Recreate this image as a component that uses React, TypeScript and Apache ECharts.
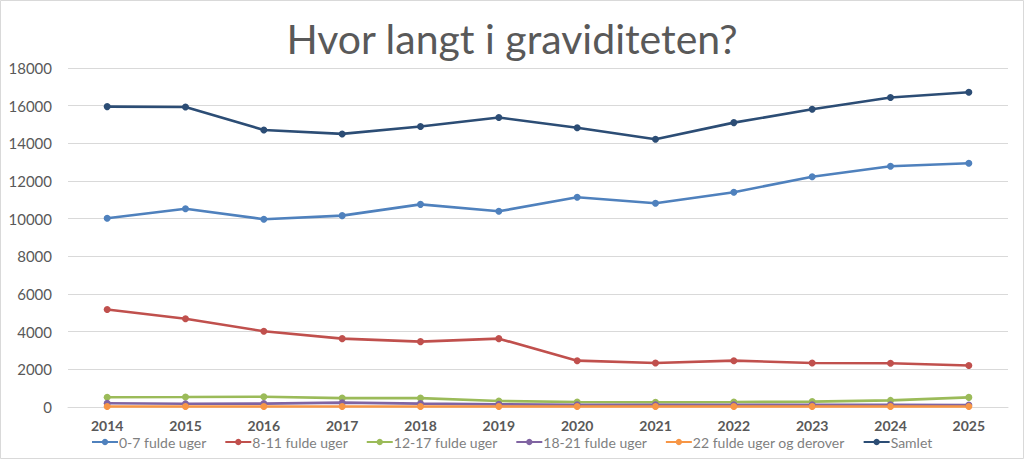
import React, { useEffect, useRef } from "react";
import * as echarts from "echarts";

const years = ["2014", "2015", "2016", "2017", "2018", "2019", "2020", "2021", "2022", "2023", "2024", "2025"];

const uger0to7 = [10020, 10530, 9970, 10160, 10760, 10390, 11135, 10820, 11400, 12230, 12780, 12940];
const uger8to11 = [5180, 4690, 4020, 3630, 3470, 3630, 2460, 2340, 2460, 2340, 2320, 2200];
const uger12to17 = [520, 530, 545, 470, 470, 320, 265, 250, 265, 285, 350, 510];
const uger18to21 = [200, 170, 180, 230, 180, 140, 120, 115, 120, 120, 120, 110];
const uger22plus = [30, 30, 30, 30, 30, 30, 30, 30, 30, 30, 30, 30];
const samlet = [15950, 15930, 14710, 14500, 14890, 15370, 14830, 14220, 15100, 15810, 16430, 16710];

const seriesDefs = [
  { name: "0-7 fulde uger", data: uger0to7, color: "#4F81BD" },
  { name: "8-11 fulde uger", data: uger8to11, color: "#C0504D" },
  { name: "12-17 fulde uger", data: uger12to17, color: "#9BBB59" },
  { name: "18-21 fulde uger", data: uger18to21, color: "#8064A2" },
  { name: "22 fulde uger og derover", data: uger22plus, color: "#F79646" },
  { name: "Samlet", data: samlet, color: "#2C4D75" },
];

const FONT = "Lato, 'Open Sans', sans-serif";
const GREY = "#595959";

export default function App() {
  const ref = useRef<HTMLDivElement>(null);

  useEffect(() => {
    if (!ref.current) return;
    const chart = echarts.init(ref.current, null, { renderer: "svg" });
    chart.setOption({
      animation: false,
      backgroundColor: "#ffffff",
      title: {
        text: "Hvor langt i graviditeten?",
        left: "center",
        top: 13,
        textStyle: { fontFamily: FONT, fontSize: 41, fontWeight: "normal", color: GREY },
      },
      graphic: [
        {
          type: "rect",
          shape: { x: 0.5, y: 0.5, width: 1023, height: 458 },
          style: { fill: "none", stroke: "#D9D9D9", lineWidth: 1 },
          silent: true,
        },
      ],
      legend: {
        left: 86,
        top: 430,
        itemWidth: 26,
        itemHeight: 8,
        itemGap: 18,
        textStyle: { fontFamily: FONT, fontSize: 14, color: "#7F7F7F", padding: [0, 0, 0, -4] },
        data: seriesDefs.map((s) => s.name),
      },
      grid: { left: 68, right: 16, top: 68, bottom: 53, containLabel: false },
      xAxis: {
        type: "category",
        data: years,
        boundaryGap: true,
        axisLine: { show: true, lineStyle: { color: "#D9D9D9" } },
        axisTick: { show: false },
        axisLabel: { fontFamily: FONT, fontSize: 14, fontWeight: "bold", color: GREY, margin: 11 },
      },
      yAxis: {
        type: "value",
        min: 0,
        max: 18000,
        interval: 2000,
        axisLine: { show: false },
        axisTick: { show: false },
        splitLine: { lineStyle: { color: "#D9D9D9" } },
        axisLabel: { fontFamily: FONT, fontSize: 15, color: GREY, margin: 16, formatter: (v: number) => String(v) },
      },
      series: seriesDefs.map((s) => ({
        name: s.name,
        type: "line",
        data: s.data,
        symbol: "circle",
        symbolSize: 7,
        itemStyle: { color: s.color },
        lineStyle: { color: s.color, width: 2.6 },
      })),
    });
    return () => chart.dispose();
  }, []);

  return (
    <div
      ref={ref}
      style={{ position: "fixed", left: 0, top: 0, width: 1024, height: 460 }}
    />
  );
}
